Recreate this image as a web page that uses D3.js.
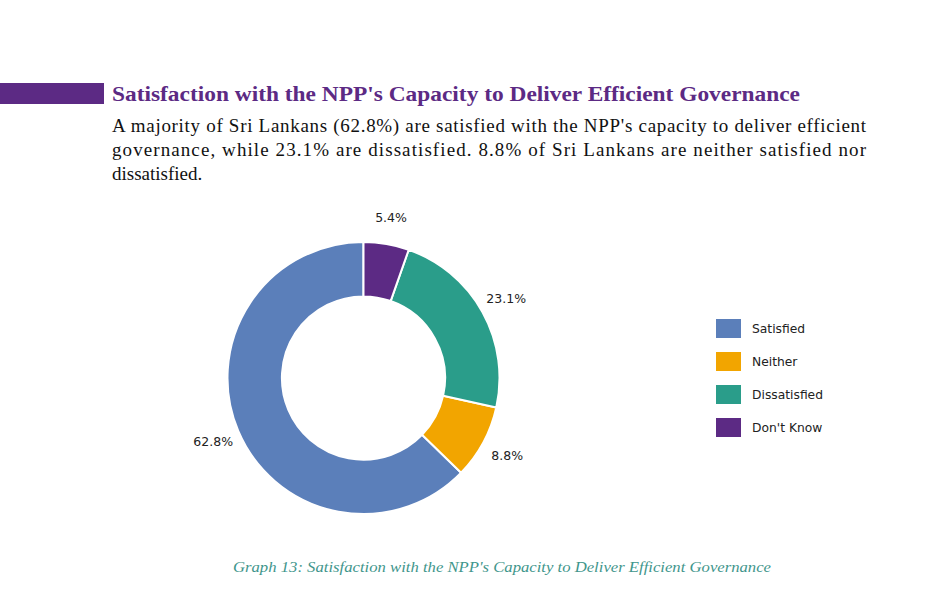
<!DOCTYPE html>
<html><head><meta charset="utf-8">
<script src="https://cdn.jsdelivr.net/npm/d3@7"></script>
<style>html,body{margin:0;padding:0;background:#fff;}svg{display:block;}</style>
</head><body>
<script>
const categories = ["Satisfied", "Neither", "Dissatisfied", "Don't Know"];
const values = [62.8, 8.8, 23.1, 5.4];
const colors = ["#5b7fba", "#f2a500", "#2a9d8a", "#5c2a84"];
const titleText = "Satisfaction with the NPP's Capacity to Deliver Efficient Governance";
const bodyLines = [
  "A majority of Sri Lankans (62.8%) are satisfied with the NPP's capacity to deliver efficient",
  "governance, while 23.1% are dissatisfied. 8.8% of Sri Lankans are neither satisfied nor",
  "dissatisfied."
];
const captionText = "Graph 13: Satisfaction with the NPP's Capacity to Deliver Efficient Governance";

const W = 939, H = 589;
const svg = d3.select("body").append("svg").attr("width", W).attr("height", H);
const serif = "Liberation Serif, Times New Roman, Times, serif";

// header bar + title
svg.append("rect").attr("x", 0).attr("y", 83).attr("width", 104).attr("height", 21).attr("fill", "#5c2a84");
svg.append("text").attr("x", 112).attr("y", 101)
  .style("font-family", serif)
  .attr("font-weight", "bold").attr("font-size", 22).attr("fill", "#5c2a84")
  .attr("textLength", 688).attr("lengthAdjust", "spacingAndGlyphs")
  .text(titleText);

bodyLines.forEach((l, i) => {
  const t = svg.append("text").attr("x", 112).attr("y", 132 + i * 24)
    .style("font-family", serif)
    .attr("font-size", 19).attr("fill", "#111").text(l);
  if (i < bodyLines.length - 1) t.attr("textLength", 754).attr("lengthAdjust", "spacing");
});

// donut
const cx = 363.5, cy = 378, R = 136, r = R * 0.6;
const g = svg.append("g").attr("transform", `translate(${cx},${cy})`);
const pie = d3.pie().sort(null).value(d => d.v).startAngle(0).endAngle(-2 * Math.PI);
const data = categories.map((c, i) => ({ c, v: values[i], col: colors[i] }));
const arcs = pie(data);
const arc = d3.arc().innerRadius(r).outerRadius(R);
g.selectAll("path.slice").data(arcs).enter().append("path")
  .attr("d", arc).attr("fill", d => d.data.col)
  .attr("stroke", "#fff").attr("stroke-width", 2).attr("stroke-linejoin", "round");

const labelArc = d3.arc().innerRadius(R * 1.2).outerRadius(R * 1.2);
g.selectAll("text.lbl").data(arcs).enter().append("text")
  .attr("transform", d => `translate(${labelArc.centroid(d)})`)
  .attr("text-anchor", "middle").attr("dominant-baseline", "central")
  .attr("font-family", "'DejaVu Sans', sans-serif").attr("font-size", 12.5).attr("fill", "#222")
  .text(d => d.data.v.toFixed(1) + "%");

// legend
const leg = svg.append("g").attr("transform", "translate(716,319)");
data.forEach((d, i) => {
  const row = leg.append("g").attr("transform", `translate(0,${i * 33})`);
  row.append("rect").attr("width", 25).attr("height", 19).attr("fill", d.col);
  row.append("text").attr("x", 36).attr("y", 9.5).attr("dominant-baseline", "central")
    .attr("font-family", "'DejaVu Sans', sans-serif").attr("font-size", 12.3).attr("fill", "#222")
    .text(d.c);
});

// caption
svg.append("text").attr("x", 233).attr("y", 572)
  .style("font-family", serif)
  .attr("font-style", "italic").attr("font-size", 15.5).attr("fill", "#3f968c")
  .attr("textLength", 538).attr("lengthAdjust", "spacingAndGlyphs")
  .text(captionText);
</script>
</body></html>
